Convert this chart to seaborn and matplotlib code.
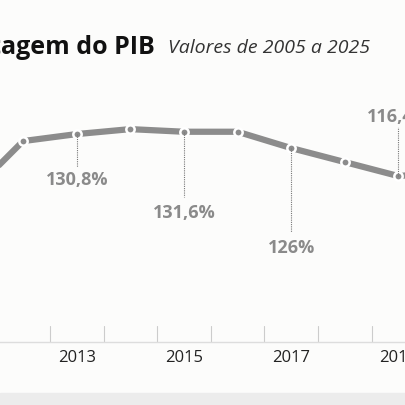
import matplotlib
matplotlib.use("Agg")
import matplotlib.pyplot as plt
import seaborn as sns
import pandas as pd

years = [2011, 2012, 2013, 2014, 2015, 2016, 2017, 2018, 2019, 2020]
values = [110.0, 128.4, 130.8, 132.5, 131.6, 131.6, 126.0, 121.2, 116.4, 118.0]
label_years = [2013, 2015, 2017, 2019]
label_texts = ["130,8%", "131,6%", "126%", "116,4%"]
label_y = [115.4, 104.0, 92.0, 137.0]
stem_end = [119.5, 109.2, 97.2, 133.2]
tick_years = [2013, 2015, 2017, 2019]

sns.set_theme(style="white")
plt.rcParams['font.family'] = ['Open Sans', 'DejaVu Sans']

fig = plt.figure(figsize=(4.06, 4.06), dpi=100)
fig.patch.set_facecolor("#fcfcfb")
ax = fig.add_axes([0, 0.155, 1, 0.5985])
ax.set_facecolor("#fcfcfb")
df = pd.DataFrame({"year": years, "value": values})
gray = "#8c8c8c"
sns.lineplot(data=df, x="year", y="value", ax=ax, color=gray, linewidth=4.5,
             marker="o", markersize=6, markerfacecolor=gray,
             markeredgecolor="white", markeredgewidth=1.8)
ax.set_xlim(2011.57, 2019.14)
ax.set_ylim(59.5, 142.8)
for s in ["top", "left", "right"]:
    ax.spines[s].set_visible(False)
ax.spines["bottom"].set_color("#dddddd")
ax.spines["bottom"].set_linewidth(1)
ax.set_yticks([])
ax.set_xlabel(""); ax.set_ylabel("")
ax.set_xticks(tick_years)
ax.set_xticklabels([str(y) for y in tick_years], fontsize=12, color="#222222")
ax.tick_params(axis="x", length=0, pad=5)
for b in range(2011, 2020):
    ax.plot([b + 0.5, b + 0.5], [59.5, 65.0], color="#cccccc", lw=0.8, clip_on=False)

for yr, txt, ly, se in zip(label_years, label_texts, label_y, stem_end):
    v = values[years.index(yr)]
    ax.plot([yr, yr], [v, se], color="#777777", lw=0.8, ls=(0, (1, 1)))
    ax.text(yr, ly, txt, ha="center", va="center", fontsize=13,
            fontweight="bold", color="#8a8a8a")

fig.text(155 / 406, 1 - 48 / 406, "Dívida em porcentagem do PIB", ha="right",
         va="center", fontsize=18, fontweight="bold", color="#111111")
fig.text(168 / 406, 1 - 48 / 406, "Valores de 2005 a 2025", ha="left",
         va="center", fontsize=14, style="italic", color="#333333")
fig.patches.append(plt.Rectangle((0, 0), 1, 12 / 406, transform=fig.transFigure,
                                 color="#ececec", zorder=0))
fig.savefig("out.png", dpi=100, facecolor=fig.get_facecolor())
